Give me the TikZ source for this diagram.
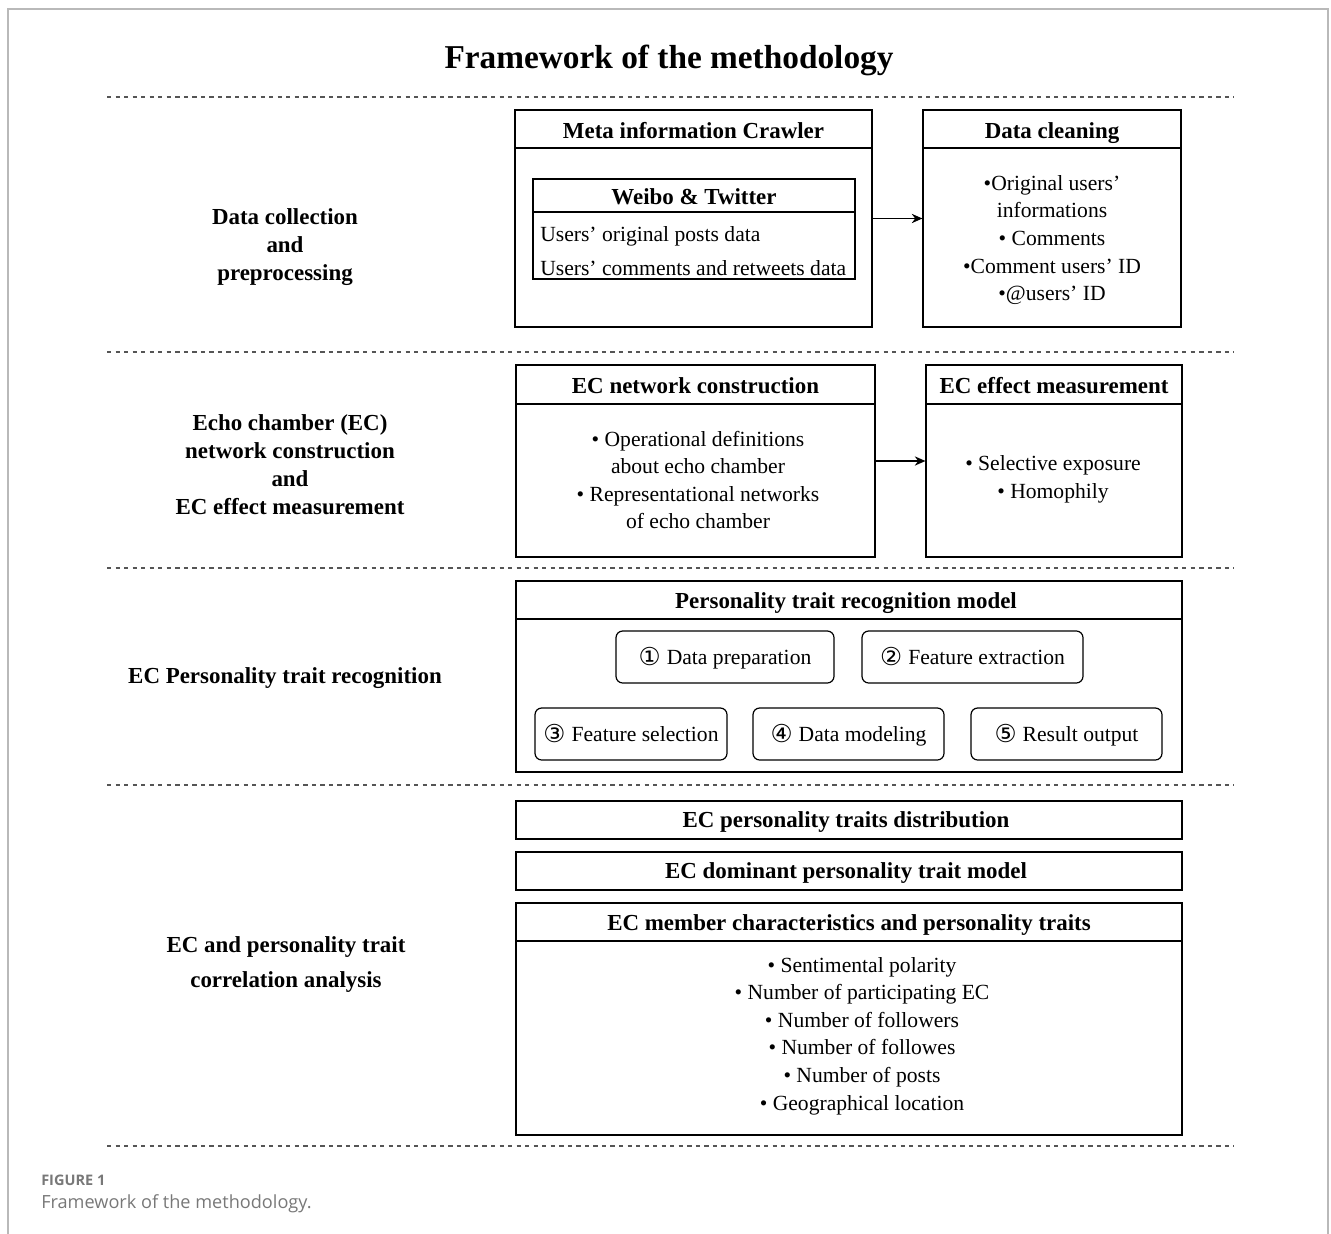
\documentclass[tikz,border=0pt]{standalone}
\usepackage{fontspec}
\setmainfont{Liberation Serif}
\newfontfamily\capfont{Open Sans}
\newfontfamily\symfont{DejaVu Sans}
\usetikzlibrary{fit,arrows.meta}
\definecolor{framegray}{RGB}{185,185,185}
\definecolor{dashgray}{RGB}{85,85,85}
\definecolor{capgray}{RGB}{120,120,120}
\newcommand{\circnum}[1]{\raisebox{-1.3pt}{\symfont\fontsize{18.5}{20}\selectfont #1}\hspace{4.5pt}}
\begin{document}
\begin{tikzpicture}[x=0.75pt,y=-0.75pt,
  boxst/.style={draw, line width=0.9pt, inner sep=0pt},
  rbox/.style={draw, line width=0.9pt, inner sep=0pt, rounded corners=5pt},
  sepline/.style={line width=0.9pt},
  dline/.style={dashgray, line width=1pt, dash pattern=on 3.2pt off 3.2pt},
  hdr/.style={font=\fontsize{17.2}{21}\selectfont\bfseries, inner sep=0pt, anchor=base},
  lbl/.style={font=\fontsize{17.2}{21}\selectfont\bfseries, align=center, inner sep=0pt},
  txt/.style={font=\fontsize{16.2}{20.7}\selectfont, align=center, inner sep=0pt},
  btxt/.style={font=\fontsize{16.2}{20.7}\selectfont, inner sep=0pt, anchor=base},
  ltxt/.style={font=\fontsize{16.2}{20.7}\selectfont, anchor=base west, inner sep=0pt},
  arr/.style={line width=0.9pt, -{Stealth[length=8pt,width=7pt]}}
]
\useasboundingbox (0,0) rectangle (1331,1234);
% outer frame
\draw[framegray, line width=1.1pt] (8,1240) -- (8,9) -- (1328,9) -- (1328,1240);

% title
\node[font=\fontsize{25}{30}\selectfont\bfseries, inner sep=0pt, anchor=base] (title) at (669,69) {Framework of the methodology};

% dashed separators
\draw[dline] (107,97) -- (1234,97);
\draw[dline] (107,352) -- (1234,352);
\draw[dline] (107,568) -- (1234,568);
\draw[dline] (107,785) -- (1234,785);
\draw[dline] (107,1146) -- (1234,1146);

% ---- section 1
\node[lbl] (l1) at (285,247) {Data collection\\and\\preprocessing};

\node[boxst, fit={(515,110)(872,327)}] (crawl) {};
\draw[sepline] (515,148) -- (872,148);
\node[hdr] (crawlh) at (693.5,138.5) {Meta information Crawler};
\node[boxst, fit={(533,179)(855,279)}] (weibo) {};
\draw[sepline] (533,212) -- (855,212);
\node[hdr] (weiboh) at (694,204.5) {Weibo \& Twitter};
\node[ltxt] (w1) at (540,241) {Users’ original posts data};
\node[ltxt] (w2) at (540,275) {Users’ comments and retweets data};

\node[boxst, fit={(923,110)(1181,327)}] (clean) {};
\draw[sepline] (923,148) -- (1181,148);
\node[hdr] (cleanh) at (1052,138.5) {Data cleaning};
\node[txt] (cleant) at (1052,240) {•Original users’\\informations\\• Comments\\•Comment users’ ID\\•@users’ ID};

\draw[arr] (crawl.east) -- (clean.west);

% ---- section 2
\node[lbl] (l2) at (290,465) {Echo chamber (EC)\\network construction\\and\\EC effect measurement};

\node[boxst, fit={(516,365)(875,557)}] (netc) {};
\draw[sepline] (516,404) -- (875,404);
\node[hdr] (netch) at (695.5,393.5) {EC network construction};
\node[txt] (netct) at (698,480) {• Operational definitions\\about echo chamber\\• Representational networks\\of echo chamber};

\node[boxst, fit={(926,365)(1182,557)}] (effect) {};
\draw[sepline] (926,404) -- (1182,404);
\node[hdr] (effecth) at (1054,393.5) {EC effect measurement};
\node[txt] (effectt) at (1053,479.5) {• Selective exposure\\• Homophily};

\draw[arr] (netc.east) -- (effect.west);

% ---- section 3
\node[hdr] (l3) at (285,683.5) {EC Personality trait recognition};

\node[boxst, fit={(516,581)(1182,772)}] (ptrm) {};
\draw[sepline] (516,619) -- (1182,619);
\node[hdr] (ptrmh) at (846,608.5) {Personality trait recognition model};

\node[rbox, fit={(616,631)(834,683)}] (s1) {};
\node[btxt] (s1t) at (725,664) {\circnum{①}Data preparation};
\node[rbox, fit={(862,631)(1083,683)}] (s2) {};
\node[btxt] (s2t) at (972.5,664) {\circnum{②}Feature extraction};
\node[rbox, fit={(535,708)(727,760)}] (s3) {};
\node[btxt] (s3t) at (631,741) {\circnum{③}Feature selection};
\node[rbox, fit={(753,708)(944,760)}] (s4) {};
\node[btxt] (s4t) at (848.5,741) {\circnum{④}Data modeling};
\node[rbox, fit={(971,708)(1162,760)}] (s5) {};
\node[btxt] (s5t) at (1066.5,741) {\circnum{⑤}Result output};

% ---- section 4
\node[lbl, font=\fontsize{17.2}{26.3}\selectfont\bfseries] (l4) at (286,964.5) {EC and personality trait\\correlation analysis};

\node[boxst, fit={(516,801)(1182,839)}] (dist) {};
\node[hdr] (distt) at (846,827.5) {EC personality traits distribution};
\node[boxst, fit={(516,852)(1182,890)}] (dom) {};
\node[hdr] (domt) at (846,878.5) {EC dominant personality trait model};
\node[boxst, fit={(516,903)(1182,1135)}] (memb) {};
\draw[sepline] (516,941) -- (1182,941);
\node[hdr] (membh) at (849,930.5) {EC member characteristics and personality traits};
\node[txt] (membt) at (862,1036) {• Sentimental polarity\\• Number of participating EC\\• Number of followers\\• Number of followes\\• Number of posts\\• Geographical location};

% caption
\node[font=\capfont\fontsize{10.9}{12}\selectfont\bfseries, text=capgray, anchor=base west, inner sep=0pt] (figno) at (41,1185) {FIGURE 1};
\node[font=\capfont\fontsize{13.6}{15}\selectfont, text=capgray, anchor=base west, inner sep=0pt] (figcap) at (41,1208) {Framework of the methodology.};
\end{tikzpicture}
\end{document}
